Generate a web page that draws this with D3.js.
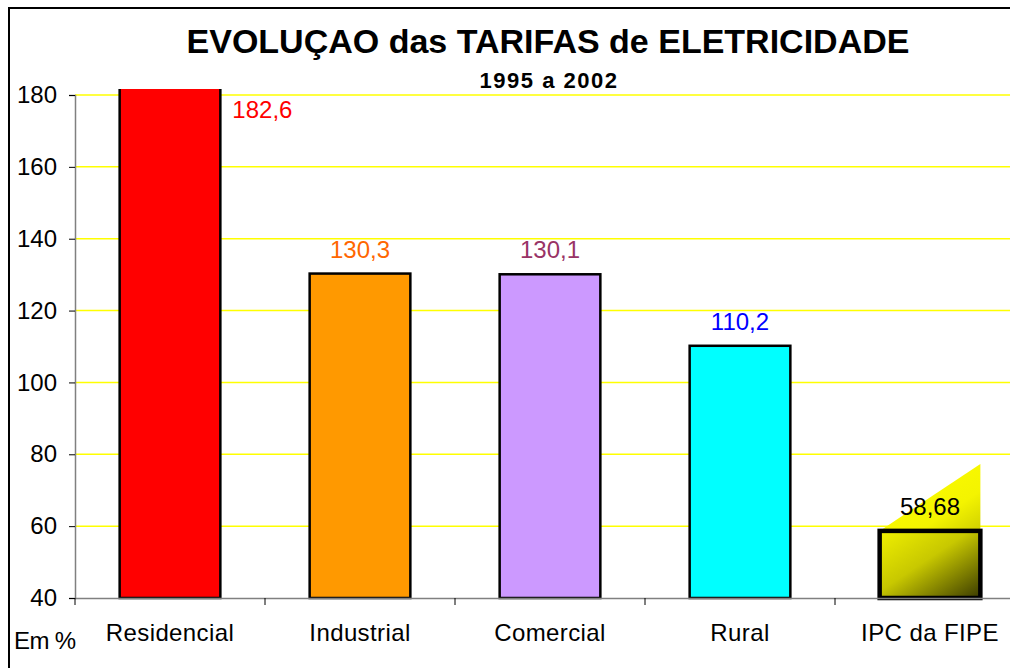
<!DOCTYPE html>
<html>
<head>
<meta charset="utf-8">
<script src="https://cdn.jsdelivr.net/npm/d3@7"></script>
<style>
  body { margin: 0; background: #fff; }
  text { font-family: "Liberation Sans", Arial, sans-serif; }
</style>
</head>
<body>
<script>
// data
var categories = ["Residencial", "Industrial", "Comercial", "Rural", "IPC da FIPE"];
var values = [182.6, 130.3, 130.1, 110.2, 58.68];
var valueLabels = ["182,6", "130,3", "130,1", "110,2", "58,68"];
var yTicks = [40, 60, 80, 100, 120, 140, 160, 180];

var barColors = ["#ff0000", "#ff9900", "#cc99ff", "#00ffff", "url(#ipcGrad)"];
var labelColors = ["#ff0000", "#ff6600", "#993366", "#0000ff", "#000000"];

var W = 1010, H = 668;
var plotLeft = 75, plotRight = 1025, plotTop = 89, plotBottom = 598;

var svg = d3.select("body").append("svg")
    .attr("width", W)
    .attr("height", H);

var defs = svg.append("defs");
var g1 = defs.append("linearGradient").attr("id", "ipcGrad")
    .attr("x1", "0").attr("y1", "0").attr("x2", "1").attr("y2", "1");
g1.append("stop").attr("offset", "0%").attr("stop-color", "#f0f000");
g1.append("stop").attr("offset", "45%").attr("stop-color", "#c8c800");
g1.append("stop").attr("offset", "100%").attr("stop-color", "#3a3a00");

var g2 = defs.append("linearGradient").attr("id", "triGrad")
    .attr("x1", "0").attr("y1", "0").attr("x2", "1").attr("y2", "1");
g2.append("stop").attr("offset", "0%").attr("stop-color", "#ffff00");
g2.append("stop").attr("offset", "70%").attr("stop-color", "#f4f400");
g2.append("stop").attr("offset", "100%").attr("stop-color", "#d0d000");

defs.append("clipPath").attr("id", "plotClip")
    .append("rect").attr("x", plotLeft - 5).attr("y", plotTop)
    .attr("width", plotRight - plotLeft + 10).attr("height", plotBottom - plotTop + 5);

// outer frame (cut at right and bottom)
svg.append("rect")
    .attr("x", 9).attr("y", 8)
    .attr("width", 1100).attr("height", 800)
    .attr("fill", "none")
    .attr("stroke", "#000")
    .attr("stroke-width", 2);

var x = d3.scaleBand()
    .domain(categories)
    .range([plotLeft, plotRight])
    .paddingInner(0.47)
    .paddingOuter(0.235);

var y = d3.scaleLinear()
    .domain([40, 180])
    .range([plotBottom, 95]);

// grid
svg.append("g").selectAll("line")
    .data(yTicks.filter(function (d) { return d > 40; }))
    .enter().append("line")
    .attr("x1", plotLeft).attr("x2", plotRight)
    .attr("y1", function (d) { return y(d); })
    .attr("y2", function (d) { return y(d); })
    .attr("stroke", "#ffff00")
    .attr("stroke-width", 1.5);

// IPC decoration triangle
var ipc = categories[4];
var tx0 = x(ipc), tx1 = x(ipc) + x.bandwidth();
var ty = y(values[4]);
svg.append("path")
    .attr("d", "M" + tx0 + "," + ty + "L" + tx1 + "," + (ty - 67) + "L" + tx1 + "," + ty + "Z")
    .attr("fill", "url(#triGrad)");

// bars
svg.append("g")
    .attr("clip-path", "url(#plotClip)")
    .selectAll("rect")
    .data(values)
    .enter().append("rect")
    .attr("x", function (d, i) { return x(categories[i]); })
    .attr("y", function (d) { return y(d); })
    .attr("width", x.bandwidth())
    .attr("height", function (d) { return plotBottom - y(d); })
    .attr("fill", function (d, i) { return barColors[i]; })
    .attr("stroke", "#000")
    .attr("stroke-width", function (d, i) { return i == 4 ? 4.5 : 2.5; });

// y axis
var yAxis = svg.append("g")
    .attr("transform", "translate(" + plotLeft + ",0)")
    .call(d3.axisLeft(y).tickValues(yTicks).tickSize(6).tickPadding(12));
yAxis.select(".domain").attr("stroke", "#808080").attr("stroke-width", 1.5);
yAxis.selectAll(".tick line").attr("stroke", "#000");
yAxis.selectAll(".tick text")
    .attr("font-size", 24)
    .attr("fill", "#000")
    .attr("font-family", "Liberation Sans, Arial, sans-serif");

// x axis
var xAxis = svg.append("g")
    .attr("transform", "translate(0," + plotBottom + ")")
    .call(d3.axisBottom(x).tickSize(0).tickPadding(26));
xAxis.select(".domain").attr("stroke", "#808080").attr("stroke-width", 1.5);
xAxis.selectAll(".tick text")
    .attr("font-size", 24)
    .attr("letter-spacing", 0.4)
    .attr("fill", "#000")
    .attr("font-family", "Liberation Sans, Arial, sans-serif");

// category separators
var step = x.step();
svg.append("g").selectAll("line")
    .data(d3.range(categories.length + 1))
    .enter().append("line")
    .attr("x1", function (i) { return plotLeft + i * step; })
    .attr("x2", function (i) { return plotLeft + i * step; })
    .attr("y1", plotBottom)
    .attr("y2", plotBottom + 7)
    .attr("stroke", "#000");

// value labels
svg.append("g").selectAll("text")
    .data(values)
    .enter().append("text")
    .attr("x", function (d, i) {
        return i == 0 ? x(categories[i]) + x.bandwidth() + 12 : x(categories[i]) + x.bandwidth() / 2;
    })
    .attr("y", function (d, i) {
        return i == 0 ? y(180) + 23 : y(d) - 16;
    })
    .attr("text-anchor", function (d, i) { return i == 0 ? "start" : "middle"; })
    .attr("font-size", 24)
    .attr("fill", function (d, i) { return labelColors[i]; })
    .text(function (d, i) { return valueLabels[i]; });

// titles
svg.append("text")
    .attr("x", 548).attr("y", 53)
    .attr("text-anchor", "middle")
    .attr("font-size", 34)
    .attr("font-weight", "bold")
    .text("EVOLUÇAO das TARIFAS de ELETRICIDADE");

svg.append("text")
    .attr("x", 549).attr("y", 88)
    .attr("text-anchor", "middle")
    .attr("font-size", 22)
    .attr("letter-spacing", 1.5)
    .attr("font-weight", "bold")
    .text("1995 a 2002");

svg.append("text")
    .attr("x", 14).attr("y", 649)
    .attr("font-size", 24)
    .attr("letter-spacing", -0.6)
    .text("Em %");
</script>
</body>
</html>
